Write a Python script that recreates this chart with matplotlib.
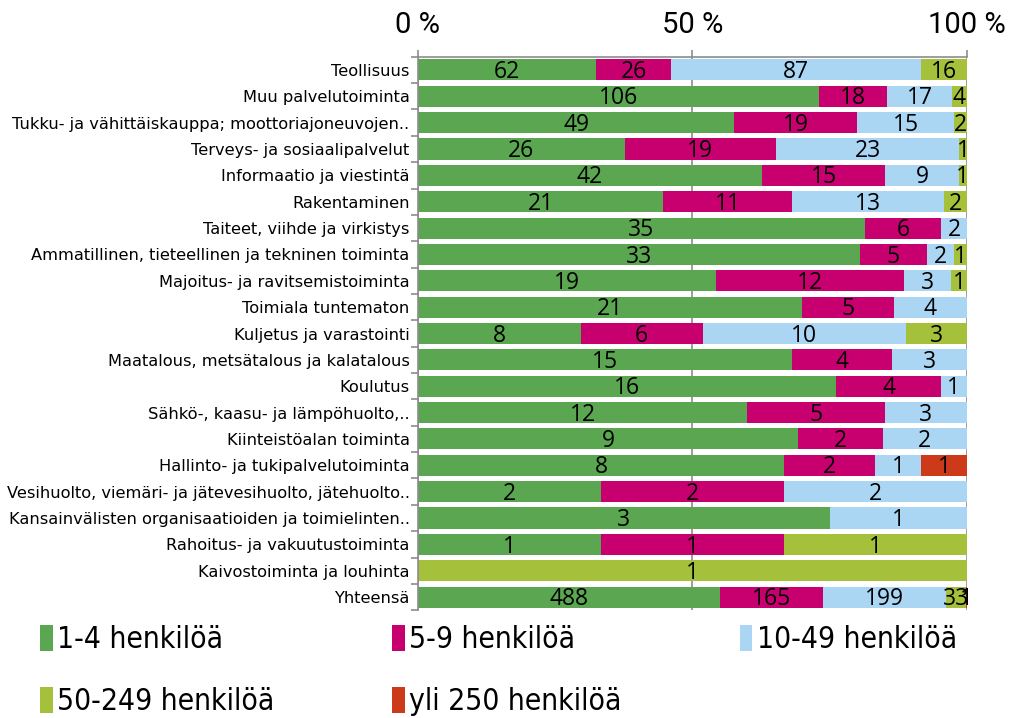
import matplotlib.pyplot as plt
import numpy as np

categories = [
    "Teollisuus",
    "Muu palvelutoiminta",
    "Tukku- ja vähittäiskauppa; moottoriajoneuvojen..",
    "Terveys- ja sosiaalipalvelut",
    "Informaatio ja viestintä",
    "Rakentaminen",
    "Taiteet, viihde ja virkistys",
    "Ammatillinen, tieteellinen ja tekninen toiminta",
    "Majoitus- ja ravitsemistoiminta",
    "Toimiala tuntematon",
    "Kuljetus ja varastointi",
    "Maatalous, metsätalous ja kalatalous",
    "Koulutus",
    "Sähkö-, kaasu- ja lämpöhuolto,..",
    "Kiinteistöalan toiminta",
    "Hallinto- ja tukipalvelutoiminta",
    "Vesihuolto, viemäri- ja jätevesihuolto, jätehuolto..",
    "Kansainvälisten organisaatioiden ja toimielinten..",
    "Rahoitus- ja vakuutustoiminta",
    "Kaivostoiminta ja louhinta",
    "Yhteensä",
]

size_1_4 = [62, 106, 49, 26, 42, 21, 35, 33, 19, 21, 8, 15, 16, 12, 9, 8, 2, 3, 1, 0, 488]
size_5_9 = [26, 18, 19, 19, 15, 11, 6, 5, 12, 5, 6, 4, 4, 5, 2, 2, 2, 0, 1, 0, 165]
size_10_49 = [87, 17, 15, 23, 9, 13, 2, 2, 3, 4, 10, 3, 1, 3, 2, 1, 2, 1, 0, 0, 199]
size_50_249 = [16, 4, 2, 1, 1, 2, 0, 1, 1, 0, 3, 0, 0, 0, 0, 0, 0, 0, 1, 1, 33]
size_250 = [0, 0, 0, 0, 0, 0, 0, 0, 0, 0, 0, 0, 0, 0, 0, 1, 0, 0, 0, 0, 1]

series_names = ["1-4 henkilöä", "5-9 henkilöä", "10-49 henkilöä",
                "50-249 henkilöä", "yli 250 henkilöä"]
colors = ["#5ba651", "#c8006f", "#aad5f3", "#a5c03a", "#cd3a19"]

counts = np.array([size_1_4, size_5_9, size_10_49, size_50_249, size_250], dtype=float)
shares = counts / counts.sum(axis=0)

fig = plt.figure(figsize=(10.12, 7.18), dpi=100)
ax = fig.add_axes([0.413, 0.150, 0.5425, 0.771])

y = np.arange(len(categories))
left = np.zeros(len(categories))
handles = []
for i, name in enumerate(series_names):
    bars = ax.barh(y, shares[i], left=left, height=0.8, color=colors[i],
                   label=name, zorder=2)
    handles.append(bars)
    for j in range(len(categories)):
        if counts[i, j] > 0:
            ax.text(left[j] + shares[i, j] / 2, y[j] + 0.08, f"{int(counts[i, j])}",
                    ha="center", va="center", fontsize=16.5,
                    family=["Open Sans", "DejaVu Sans"], color="black", zorder=3)
    left += shares[i]

ax.set_xlim(0, 1)
ax.set_ylim(len(categories) - 0.5, -0.5)

ax.xaxis.tick_top()
ax.set_xticks([0, 0.5, 1])
ax.set_xticklabels(["0 %", "50 %", "100 %"], family=["Roboto", "DejaVu Sans"], fontsize=21)
ax.tick_params(axis="x", length=5, width=1.2, color="#8c8c8c", pad=8)
ax.xaxis.grid(True, color="#8c8c8c", linewidth=1.2, zorder=1)
ax.set_axisbelow(True)

ax.set_yticks(y)
ax.set_yticklabels(categories, fontsize=11.7, family="DejaVu Sans")
ax.set_yticks(np.arange(-0.5, len(categories)), minor=True)
ax.tick_params(axis="y", which="major", length=0, pad=6)
ax.tick_params(axis="y", which="minor", length=5, width=1.2, color="#8c8c8c")

for side in ("right", "bottom"):
    ax.spines[side].set_visible(False)
for side in ("top", "left"):
    ax.spines[side].set_color("#8c8c8c")
    ax.spines[side].set_linewidth(1.2)

# row-major order in the legend: matplotlib fills columns first
order = [0, 3, 1, 4, 2]
fig.legend(handles=[handles[k] for k in order], loc="upper left",
           bbox_to_anchor=(0.013, 0.167), ncol=3, frameon=False,
           handlelength=0.42, handleheight=0.95, handletextpad=0.15,
           columnspacing=3.95, labelspacing=1.1,
           prop={"family": "DejaVu Sans", "stretch": "condensed", "size": 21.5})

fig.savefig("out.png")
